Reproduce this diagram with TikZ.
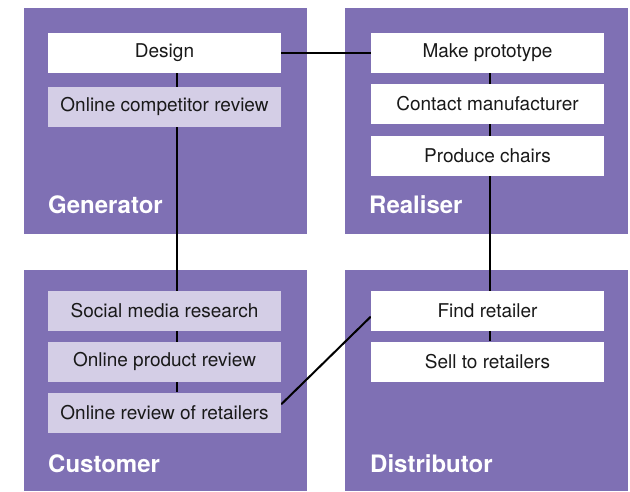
\documentclass[tikz,border=0pt]{standalone}
\usepackage{fontspec}
\setmainfont{TeX Gyre Heros}
\usepackage{tikz}
\usetikzlibrary{arrows,shapes}
\usetikzlibrary{calc}
\definecolor{panelpurple}{RGB}{127,112,180}
\definecolor{lightlilac}{RGB}{212,206,230}
\pgfdeclarelayer{panels}
\pgfdeclarelayer{links}
\pgfsetlayers{panels,links,main}
\tikzstyle{panel}=[rectangle,fill=panelpurple,anchor=north west,inner sep=0pt]
\tikzstyle{task}=[rectangle,fill=white,minimum width=233pt,minimum height=40pt,inner sep=0pt,font=\fontsize{19}{21}\selectfont,text=black!90]
\tikzstyle{research}=[task,fill=lightlilac]
\tikzstyle{role}=[anchor=base west,text=white,font=\fontsize{24}{27}\selectfont\bfseries,inner sep=0pt]
\tikzstyle{link} = [draw,line width=2pt]

\begin{document}
\begin{tikzpicture}[x=1pt,y=-1pt]
    \useasboundingbox (0,0) rectangle (630,491);

    % the four panels
    \begin{pgfonlayer}{panels}
    \foreach \pos/ \name/ \w/ \h in {{(24,8)/gen/283/226},{(345,8)/real/283/226}, {(24,270)/cust/283/221}, {(345,270)/dist/283/221}}
        \node[panel,minimum width=\w pt,minimum height=\h pt] (\name) at \pos {};
    \end{pgfonlayer}

    \foreach \pos/ \name/ \txt in {{(164.5,52.5)/design/Design}, {(487.5,52.5)/proto/Make prototype}, {(487.5,103.5)/contact/Contact manufacturer}, {(487.5,155.5)/produce/Produce chairs}, {(487.5,310.5)/find/Find retailer}, {(487.5,361.5)/sell/Sell to retailers}}
        \node[task] (\name) at \pos {\txt};

    \foreach \pos/ \name/ \txt in {{(164.5,106.5)/comp/Online competitor review}, {(164.5,310.5)/social/Social media research}, {(164.5,361.5)/product/Online product review}, {(164.5,412.5)/retrev/Online review of retailers}}
        \node[research] (\name) at \pos {\txt};

    \foreach \pos/ \name/ \txt in {{(48,213)/lgen/Generator}, {(369,213)/lreal/Realiser}, {(48,472)/lcust/Customer}, {(370,472)/ldist/Distributor}}
        \node[role] (\name) at \pos {\txt};

    % links run behind the boxes
    \begin{pgfonlayer}{links}
    \path[link] (design) -- (proto);
    \path[link] (design.-58) -- (retrev.58);
    \path[link] (proto.-83) -- (sell.83);
    \path[link] (retrev.4) -- (find.183);
    \end{pgfonlayer}

\end{tikzpicture}
\end{document}
